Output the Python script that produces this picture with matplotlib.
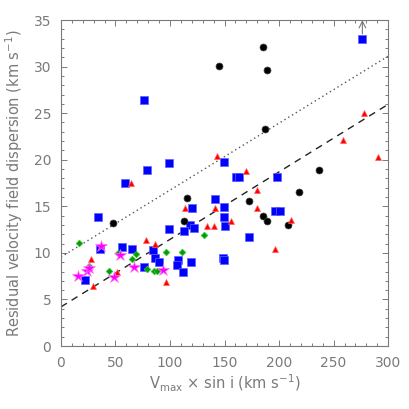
import matplotlib
matplotlib.use("Agg")
import numpy as np
from matplotlib import pyplot as plt

# black circles
black_x = [145.2, 185.0, 189.3, 187.2, 236.7, 218.3, 172.2, 185.3, 188.7, 208.0, 115.6, 113.1, 48.0]
black_y = [30.1, 32.1, 29.6, 23.3, 18.9, 16.5, 15.6, 14.0, 13.45, 12.95, 15.9, 13.45, 13.2]

# blue squares
blue_x = [276.4, 76.1, 78.6, 99.4, 149.8, 160.3, 163.6, 198.2, 58.4, 141.6, 119.9, 149.8,
          33.6, 149.8, 118.7, 122.0, 150.2, 98.8, 112.5, 196.6, 200.9, 172.2, 36.1, 56.4,
          64.8, 84.4, 86.2, 90.2, 107.6, 119.3, 106.4, 148.3, 149.8, 76.4, 111.6, 22.3]
blue_y = [33.0, 26.4, 18.9, 19.6, 19.8, 18.1, 18.1, 18.2, 17.5, 15.8, 14.85, 14.96,
          13.9, 13.9, 13.0, 12.7, 12.9, 12.58, 12.35, 14.5, 14.5, 11.7, 10.42, 10.6,
          10.45, 10.3, 9.5, 9.05, 9.2, 8.99, 8.73, 9.5, 9.23, 8.52, 8.0, 7.1]

# red triangles
red_x = [143.1, 278.3, 258.7, 290.8, 170.0, 63.9, 114.0, 141.0, 133.9, 140.1, 156.3, 179.5,
         179.5, 211.3, 196.0, 78.0, 86.5, 27.8, 51.1, 96.6, 29.7]
red_y = [20.4, 25.0, 22.1, 20.3, 18.75, 17.5, 14.85, 14.85, 12.9, 12.9, 13.4, 16.8,
         14.85, 13.5, 10.45, 11.4, 10.95, 9.3, 7.95, 6.9, 6.4]

# green diamonds
green_x = [131.5, 16.5, 96.3, 111.0, 52.7, 68.5, 65.4, 25.7, 78.6, 85.2, 88.3, 44.3]
green_y = [11.9, 11.07, 10.1, 10.1, 9.97, 9.87, 9.3, 8.55, 8.28, 8.1, 8.1, 8.1]

# magenta stars
star_x = [36.7, 53.9, 23.5, 26.0, 67.1, 93.6, 15.9, 48.9]
star_y = [10.75, 9.8, 8.1, 8.35, 8.47, 8.16, 7.47, 7.45]

# reference lines: intercept, slope
dotted_line = (9.55, 0.0719)
dashed_line = (4.2, 0.0725)

grey = "#7a7a7a"

fig = plt.figure(figsize=(4.09, 4.09), dpi=100)
ax = fig.add_axes([0.149, 0.154, 0.8, 0.797])

xl = np.array([0, 300])
ax.plot(xl, dotted_line[0] + dotted_line[1] * xl, ls=(0, (1, 2.2)), color="#555555", lw=1.0)
ax.plot(xl, dashed_line[0] + dashed_line[1] * xl, ls=(0, (5, 4)), color="#222222", lw=1.0)

ax.plot(blue_x, blue_y, "s", color="#0000ff", ms=5.4, mec="#6060ff", mew=0.5, ls="none")
ax.plot(black_x, black_y, "o", color="black", ms=5.0, mec="#404040", mew=0.5, ls="none")
ax.plot(red_x, red_y, "^", color="#ff0000", ms=5.0, mec="#ff6060", mew=0.5, ls="none")
ax.plot(green_x, green_y, "D", color="#00a000", ms=3.4, mec="#40c040", mew=0.5, ls="none")
ax.plot(star_x, star_y, "*", color="#ff00ff", ms=9, mec="#ff70ff", mew=0.5, ls="none")

# lower limit arrow on the top-right square
ax.annotate("", xy=(blue_x[0], 35.0), xytext=(blue_x[0], blue_y[0] + 0.5),
            arrowprops=dict(arrowstyle="->", color=grey, lw=0.8, mutation_scale=12,
                            shrinkA=0, shrinkB=0))

ax.set_xlim(0, 300)
ax.set_ylim(0, 35)
ax.set_xticks(np.arange(0, 301, 50))
ax.set_yticks(np.arange(0, 36, 5))
ax.set_xticks(np.arange(0, 301, 10), minor=True)
ax.set_yticks(np.arange(0, 36, 1), minor=True)
ax.tick_params(which="both", direction="in", top=True, right=True, colors=grey,
               labelcolor=grey, labelsize=10, width=0.7)
ax.tick_params(which="major", length=4.5, pad=7)
ax.tick_params(which="minor", length=2.2)
for s in ax.spines.values():
    s.set_color(grey)
    s.set_linewidth(0.8)

ax.set_xlabel(r"V$_{\rm max}$ $\times$ sin i (km s$^{-1}$)", color=grey, fontsize=10.5, labelpad=2)
ax.set_ylabel(r"Residual velocity field dispersion (km s$^{-1}$)", color=grey, fontsize=10.5, labelpad=6)

fig.savefig("out.png", dpi=100)
